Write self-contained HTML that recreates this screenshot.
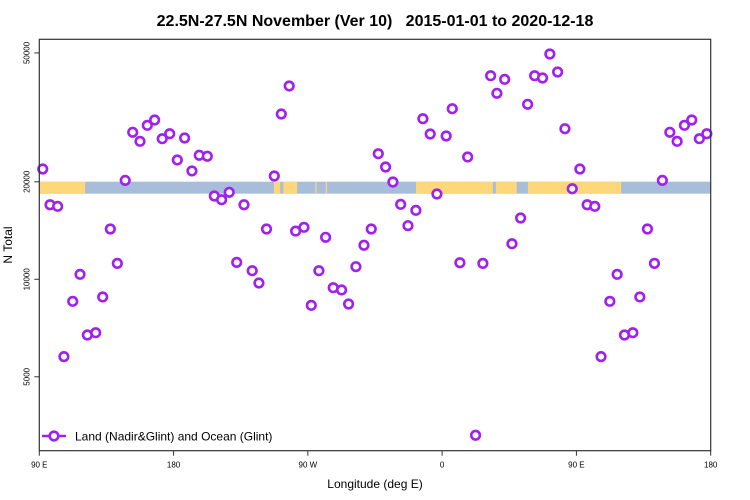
<!DOCTYPE html>
<html><head><meta charset="utf-8"><style>
body{margin:0;background:#fff}
svg{display:block;font-family:"Liberation Sans",sans-serif}
</style></head><body>
<svg id="chart" width="750" height="500" viewBox="0 0 750 500">
<text x="375" y="26" text-anchor="middle" font-size="16" font-weight="bold">22.5N-27.5N November (Ver 10)&#160;&#160; 2015-01-01 to 2020-12-18</text>
<g id="band"></g>
<g id="axes"></g>
<g id="pts"></g>
<rect x="39.3" y="39.3" width="671.4" height="411.4" fill="none" stroke="#333" stroke-width="1.2"/>
<text x="375" y="488" text-anchor="middle" font-size="12">Longitude (deg E)</text>
<text transform="translate(12,245) rotate(-90)" text-anchor="middle" font-size="12">N Total</text>
<g>
<line x1="42" y1="436" x2="66" y2="436" stroke="#a020f0" stroke-width="2.5"/>
<circle cx="54" cy="436" r="4.3" fill="#fff" stroke="#a020f0" stroke-width="2.6"/>
<text x="75" y="440.5" font-size="12">Land (Nadir&amp;Glint) and Ocean (Glint)</text>
</g>
</svg>
<script>
const longitudes=[92.3,97.2,102.3,106.5,112.4,117.3,122.2,127.8,132.5,137.6,142.3,147.6,152.6,157.5,162.4,167.3,172.4,177.4,-177.5,-172.6,-167.7,-162.8,-157.4,-152.7,-147.8,-142.7,-137.7,-132.8,-127.3,-122.8,-117.7,-112.5,-107.8,-102.5,-98.2,-92.6,-87.7,-82.6,-78.1,-73,-67.4,-62.7,-57.8,-52.4,-47.5,-42.8,-37.9,-33,-27.8,-22.9,-17.6,-12.9,-8,-3.5,2.7,6.8,11.9,17.1,22.4,27.3,32.5,36.7,41.9,46.8,52.6,57.3,62,67.3,72.2,77.4,82.3,87.2];
const totals=[21900,16990,16800,5770,8550,10360,6730,6840,8820,14300,11200,20200,28440,26670,29880,31030,27170,28150,23360,27300,21600,24150,23980,18080,17610,18560,11280,16990,10630,9740,14300,20840,32380,39530,14090,14470,8310,10630,13480,9420,9270,8390,10940,12740,14300,24420,22220,19970,17040,14640,16330,31320,28090,18340,27700,33630,11250,23860,3300,11200,42520,37520,41440,12880,15460,34700,42520,41830,49620,43650,29170,19040];
const yTicks=[5000,10000,20000,50000];
const xTickPos=[90,180,270,360,450,540];
const xTickLabels=["90 E","180","90 W","0","90 E","180"];
const landSegments=[[90,120.7],[247.2,251.5],[253.5,262.8],[275,275.8],[282,282.8],[342.5,394],[396,410],[417.5,480]];
const NS='http://www.w3.org/2000/svg';
const X0=39.3,X1=710.7,Y0=39.3,Y1=450.7;
const xs=u=>X0+(u-90)*(X1-X0)/450;
const ys=v=>279.3-97.5*Math.log2(v/10000);
function mk(tag,attrs,parent){const e=document.createElementNS(NS,tag);for(const k in attrs)e.setAttribute(k,attrs[k]);parent.appendChild(e);return e;}
const band=document.getElementById('band');
const br=mk('rect',{x:X0,y:181.7,width:X1-X0,height:12,fill:'#a7bdd9'},band);


landSegments.forEach(s=>{
 const r=mk('rect',{x:xs(s[0]),y:181.7,width:xs(s[1])-xs(s[0]),height:12,fill:'#fdd77a'},band);
 
 
});
const axes=document.getElementById('axes');
yTicks.forEach(t=>{
 const y=ys(t);
 mk('line',{x1:X0-5,x2:X0,y1:y,y2:y,stroke:'#333'},axes);
 const tx=mk('text',{transform:`translate(${X0-10},${y}) rotate(-90)`,'text-anchor':'middle','font-size':8},axes);
 tx.textContent=t;
 
 
});
xTickPos.forEach((u,i)=>{
 const x=xs(u);
 mk('line',{x1:x,x2:x,y1:Y1,y2:Y1+5,stroke:'#333'},axes);
 const tx=mk('text',{x:x,y:Y1+17,'text-anchor':'middle','font-size':8},axes);
 tx.textContent=xTickLabels[i];
 
 
});
const pts=document.getElementById('pts');
longitudes.forEach((lon,i)=>{
 const us=[];
 if(lon>=90){us.push(lon);us.push(lon+360);} else us.push(lon+360);
 us.forEach(u=>{
  if(u<90||u>540)return;
  const c=mk('circle',{cx:xs(u),cy:ys(totals[i]),r:4.3,fill:'#fff',stroke:'#a020f0','stroke-width':2.6},pts);
  
  
 });
});
</script>
</body></html>
